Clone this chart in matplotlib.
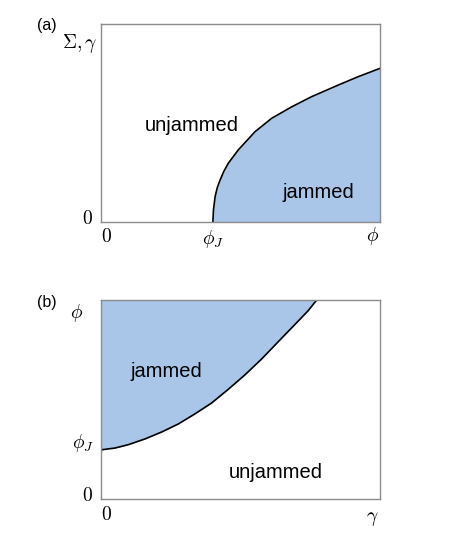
import matplotlib
matplotlib.use('Agg')
import matplotlib.pyplot as plt

plt.rcParams['mathtext.fontset'] = 'cm'

# panel (a): jamming line Sigma(phi)
phi_a = [0.401, 0.403, 0.409, 0.417, 0.427, 0.440, 0.456, 0.492, 0.552, 0.612, 0.684, 0.755, 0.851, 0.922, 1.0]
sig_a = [0.0, 0.060, 0.128, 0.175, 0.212, 0.255, 0.296, 0.364, 0.456, 0.524, 0.582, 0.633, 0.692, 0.734, 0.776]

# panel (b): jamming line phi(gamma)
gam_b = [0.0, 0.050, 0.098, 0.158, 0.218, 0.277, 0.337, 0.397, 0.456, 0.516, 0.576, 0.635, 0.695, 0.743, 0.773]
phi_b = [0.247, 0.256, 0.273, 0.302, 0.337, 0.377, 0.428, 0.483, 0.551, 0.624, 0.704, 0.790, 0.877, 0.947, 1.0]

fill_col = '#a9c6e9'
spine_col = '#8c8c8c'
sans = ['Liberation Sans', 'DejaVu Sans']

fig = plt.figure(figsize=(4.64, 5.52), dpi=100)
ax_a = fig.add_axes([101/464, 1-222/552, 279/464, 198/552])
ax_b = fig.add_axes([101/464, 1-499/552, 279/464, 199/552])

for ax in (ax_a, ax_b):
    ax.set_xlim(0, 1)
    ax.set_ylim(0, 1)
    ax.set_xticks([])
    ax.set_yticks([])
    for s in ax.spines.values():
        s.set_color(spine_col)
        s.set_linewidth(1.0)

# (a)
ax_a.fill_between(phi_a, sig_a, 0, color=fill_col, lw=0)
ax_a.plot(phi_a, sig_a, color='black', lw=1.2)
ax_a.text(0.325, 0.485, 'unjammed', fontsize=14.5, family=sans, ha='center', va='center')
ax_a.text(0.78, 0.15, 'jammed', fontsize=14.5, family=sans, ha='center', va='center')
ax_a.text(-0.194, 0.99, '(a)', fontsize=11.5, family=sans, ha='center', va='center', clip_on=False)
ax_a.text(-0.075, 0.90, r'$\Sigma, \gamma$', fontsize=14, ha='center', va='center')
ax_a.text(-0.05, 0.02, r'$0$', fontsize=14, ha='center', va='center')
ax_a.text(0.018, -0.075, r'$0$', fontsize=14, ha='center', va='center')
ax_a.text(0.401, -0.085, r'$\phi_J$', fontsize=14, ha='center', va='center')
ax_a.text(0.975, -0.07, r'$\phi$', fontsize=14, ha='center', va='center')

# (b)
ax_b.fill_between(gam_b, phi_b, 1, color=fill_col, lw=0)
ax_b.plot(gam_b, phi_b, color='black', lw=1.2)
ax_b.text(0.235, 0.64, 'jammed', fontsize=14.5, family=sans, ha='center', va='center')
ax_b.text(0.625, 0.135, 'unjammed', fontsize=14.5, family=sans, ha='center', va='center')
ax_b.text(-0.194, 0.985, '(b)', fontsize=11.5, family=sans, ha='center', va='center', clip_on=False)
ax_b.text(-0.086, 0.935, r'$\phi$', fontsize=14, ha='center', va='center')
ax_b.text(-0.065, 0.28, r'$\phi_J$', fontsize=14, ha='center', va='center')
ax_b.text(-0.05, 0.02, r'$0$', fontsize=14, ha='center', va='center')
ax_b.text(0.018, -0.08, r'$0$', fontsize=14, ha='center', va='center')
ax_b.text(0.971, -0.10, r'$\gamma$', fontsize=14, ha='center', va='center')

fig.savefig('out.png', dpi=100)
